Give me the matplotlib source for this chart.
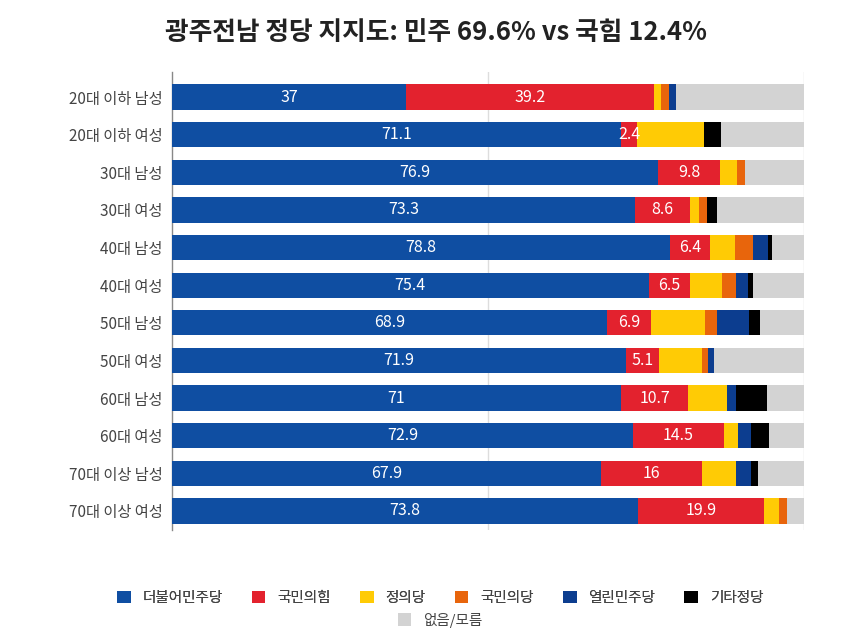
import matplotlib
matplotlib.use("Agg")
import matplotlib.pyplot as plt
from matplotlib.patches import Patch
import numpy as np

plt.rcParams['font.family'] = ['Noto Sans CJK KR', 'DejaVu Sans']

groups = ["20대 이하 남성", "20대 이하 여성", "30대 남성", "30대 여성",
          "40대 남성", "40대 여성", "50대 남성", "50대 여성",
          "60대 남성", "60대 여성", "70대 이상 남성", "70대 이상 여성"]

parties = ["더불어민주당", "국민의힘", "정의당", "국민의당", "열린민주당", "기타정당", "없음/모름"]

dem     = [37, 71.1, 76.9, 73.3, 78.8, 75.4, 68.9, 71.9, 71, 72.9, 67.9, 73.8]
ppp     = [39.2, 2.4, 9.8, 8.6, 6.4, 6.5, 6.9, 5.1, 10.7, 14.5, 16, 19.9]
justice = [1.2, 10.6, 2.7, 1.5, 3.9, 5.1, 8.5, 6.9, 6.1, 2.1, 5.3, 2.4]
people  = [1.3, 0, 1.3, 1.2, 2.8, 2.2, 2.0, 0.9, 0, 0, 0, 1.2]
openp   = [1.0, 0, 0, 0, 2.4, 1.9, 5.0, 1.0, 1.5, 2.1, 2.4, 0]
other   = [0, 2.8, 0, 1.6, 0.6, 0.9, 1.7, 0, 4.9, 2.9, 1.2, 0]
none    = [20.3, 13.1, 9.3, 13.8, 5.1, 8.0, 7.0, 14.2, 5.8, 5.5, 7.2, 2.7]

colors = ["#0F4EA2", "#E3222E", "#FFCB05", "#E8650C", "#0C3D8F", "#000000", "#D3D3D3"]

series = [dem, ppp, justice, people, openp, other, none]

fig = plt.figure(figsize=(8.5, 6.43), dpi=100)
ax = fig.add_axes([172/850, 1-530/643, (804-172)/850, (530-72)/643])

y = np.arange(len(groups))
left = np.zeros(len(groups))
bh = 0.67
for i, (vals, c) in enumerate(zip(series, colors)):
    vals = np.array(vals, dtype=float)
    ax.barh(y, vals, left=left, height=bh, color=c, zorder=3, linewidth=0)
    if i in (0, 1):
        for yy, l, v in zip(y, left, vals):
            ax.text(l + v/2, yy, f"{v:g}", ha="center", va="center",
                    color="white", fontsize=11.5, zorder=4)
    left += vals

ax.set_xlim(0, 100)
ax.set_ylim(11 + 19/37.6, -25/37.6)
ax.set_yticks(y)
ax.set_yticklabels(groups, fontsize=11, color="#444444")
ax.tick_params(axis="y", length=0, pad=7)
ax.set_xticks([])
for s in ["top", "right", "bottom"]:
    ax.spines[s].set_visible(False)
ax.spines["left"].set_color("#888888")
ax.spines["left"].set_linewidth(1.0)
for gx in (50, 100):
    ax.axvline(gx, color="#DDDDDD", linewidth=1.0, zorder=1)

fig.suptitle("광주전남 정당 지지도: 민주 69.6% vs 국힘 12.4%", x=436/850, y=1-32/643,
             va="center", fontsize=18.5, fontweight="bold", color="#222222")

handles = [Patch(facecolor=c, edgecolor="none") for c in colors]
leg1 = fig.legend(handles[:6], parties[:6], loc="center", bbox_to_anchor=(440/850, 1-598/643),
                  ncol=6, frameon=False, fontsize=10.5, handlelength=0.95, handleheight=0.95,
                  handletextpad=0.8, columnspacing=2.0, labelcolor="#444444")
leg2 = fig.legend(handles[6:], parties[6:], loc="center", bbox_to_anchor=(440/850, 1-620/643),
                  ncol=1, frameon=False, fontsize=10.5, handlelength=0.95, handleheight=0.95,
                  handletextpad=0.8, labelcolor="#444444")
fig.add_artist(leg1)

fig.savefig("out.png", dpi=100)
